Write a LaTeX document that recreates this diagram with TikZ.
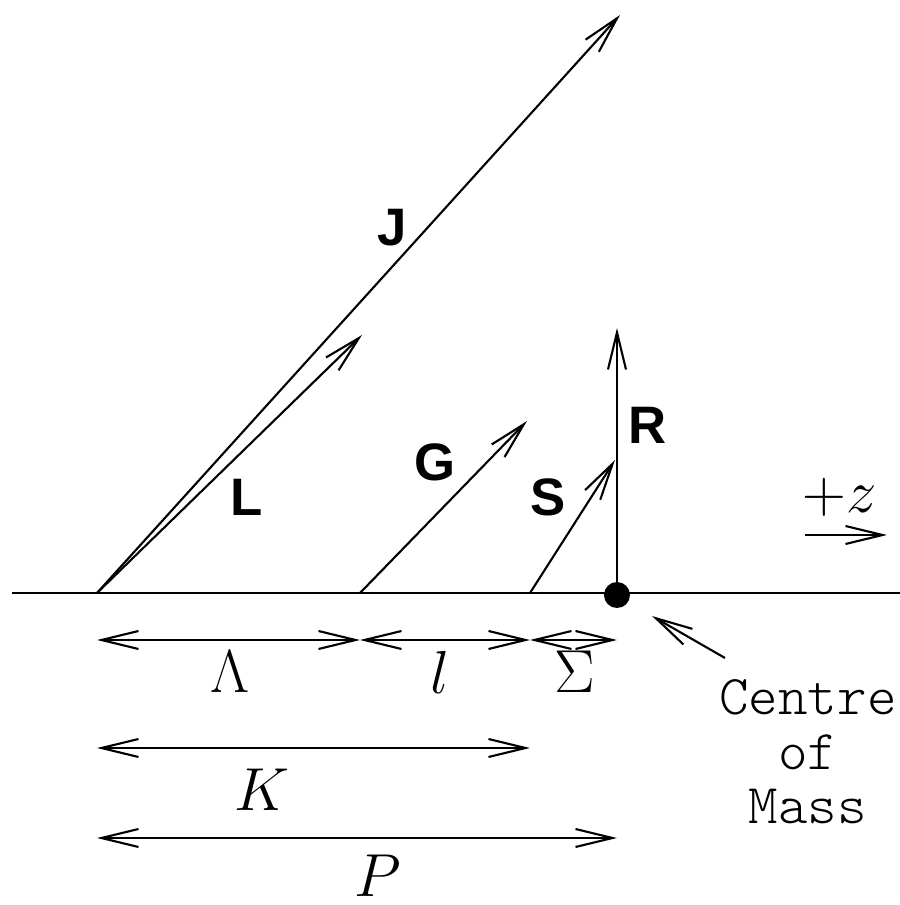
\documentclass[tikz,border=0pt]{standalone}
\usepackage{fontspec}
\newfontfamily\vecfont{Liberation Sans}
\usetikzlibrary{arrows.meta}
\begin{document}
\begin{tikzpicture}[
    line width=0.6pt,
    vec/.style={-{Straight Barb[length=3.7mm,width=1.8mm]}},
    dim/.style={{Straight Barb[length=3.7mm,width=1.8mm]}-{Straight Barb[length=3.7mm,width=1.8mm]}},
    veclabel/.style={font=\vecfont\bfseries\fontsize{15}{18}\selectfont},
    dimlabel/.style={font=\fontsize{16}{19}\selectfont}
  ]
    \useasboundingbox (0,0) rectangle (9.0,9.05);

    % Axis and origins
    \coordinate (axisL) at (0.12,3.12);
    \coordinate (axisR) at (9.0,3.12);
    \coordinate (oL) at (0.97,3.12);
    \coordinate (oG) at (3.60,3.12);
    \coordinate (oS) at (5.30,3.12);
    \coordinate (cm) at (6.17,3.12);
    \draw (axisL) -- (axisR);

    % Vectors
    \coordinate (tipJ) at (6.20,8.90);
    \coordinate (tipL) at (3.62,5.70);
    \coordinate (tipG) at (5.27,4.84);
    \coordinate (tipS) at (6.15,4.45);
    \coordinate (tipR) at (6.17,5.77);
    \draw[vec] (oL) -- (tipJ);
    \draw[vec] (oL) -- (tipL);
    \draw[vec] (oG) -- (tipG);
    \draw[vec] (oS) -- (tipS);
    \draw[vec] (cm) -- (tipR);
    \node[veclabel] (labJ) at (3.92,6.77) {J};
    \node[veclabel] (labL) at (2.47,4.08) {L};
    \node[veclabel] (labG) at (4.35,4.43) {G};
    \node[veclabel] (labS) at (5.48,4.08) {S};
    \node[veclabel] (labR) at (6.48,4.80) {R};

    % Centre of mass
    \fill (6.17,3.10) circle (0.13);
    \node[font=\ttfamily\fontseries{l}\fontsize{16}{15.5}\selectfont, align=center]
        (com) at (8.08,1.53) {Centre\\of\\Mass};
    \coordinate (comTail) at (7.25,2.47);
    \coordinate (comTip) at (6.52,2.89);
    \draw[vec] (comTail) -- (comTip);

    % Direction of +z
    \node[dimlabel] (zlab) at (8.40,4.08) {$+z$};
    \coordinate (zA) at (8.05,3.70);
    \coordinate (zB) at (8.87,3.70);
    \draw[vec] (zA) -- (zB);

    % Distances
    \coordinate (d1a) at (0.97,2.65);
    \coordinate (d1b) at (3.60,2.65);
    \coordinate (d1c) at (5.30,2.65);
    \coordinate (d1d) at (6.17,2.65);
    \draw[dim] (d1a) -- (d1b);
    \draw[dim] (d1b) -- (d1c);
    \draw[dim] (d1c) -- (d1d);
    \node[dimlabel] (labLam) at (2.30,2.33) {$\Lambda$};
    \node[dimlabel] (labl) at (4.40,2.33) {$l$};
    \node[dimlabel] (labSig) at (5.75,2.33) {$\Sigma$};

    \coordinate (d2a) at (0.97,1.57);
    \coordinate (d2b) at (5.30,1.57);
    \draw[dim] (d2a) -- (d2b);
    \node[dimlabel] (labK) at (2.62,1.15) {$K$};

    \coordinate (d3a) at (0.97,0.67);
    \coordinate (d3b) at (6.17,0.67);
    \draw[dim] (d3a) -- (d3b);
    \node[dimlabel] (labP) at (3.78,0.29) {$P$};
\end{tikzpicture}
\end{document}
